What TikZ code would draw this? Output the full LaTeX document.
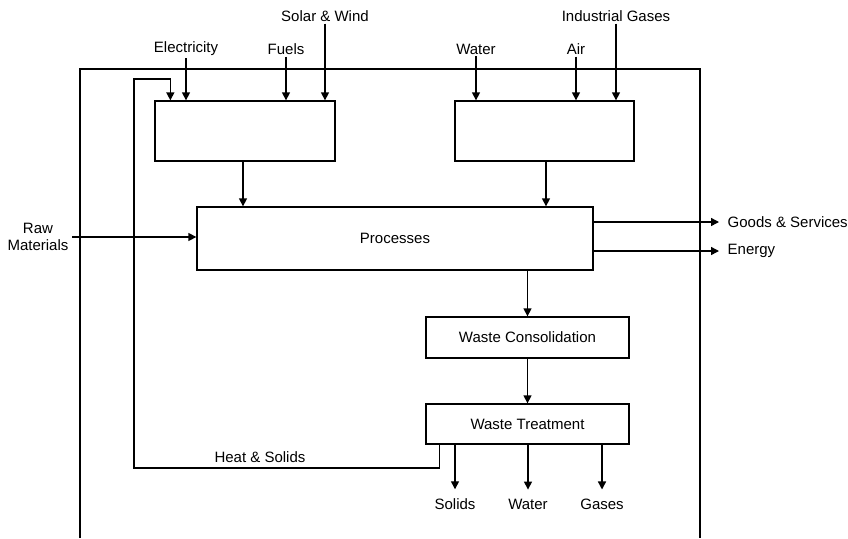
\documentclass[tikz,border=0pt]{standalone}
\usepackage{fontspec}
\setmainfont{Liberation Sans}
\usetikzlibrary{arrows.meta}
\begin{document}
\begin{tikzpicture}[x=1pt,y=-1pt, line width=1.4pt,
  box/.style={draw, rectangle, inner sep=0pt, line width=1.3pt, font=\fontsize{15}{17}\selectfont},
  lbl/.style={font=\fontsize{15}{17}\selectfont, inner sep=1.5pt},
  arr/.style={-{Triangle[length=8pt,width=8pt]}}]
\useasboundingbox (0,0) rectangle (848,538);
% frame
\draw (80,538) -- (80,69) -- (700,69) -- (700,538);
% boxes
\node[box, minimum width=180, minimum height=60] (lb) at (245,131) {};
\node[box, minimum width=179, minimum height=60] (rb) at (544.5,131) {};
\node[box, minimum width=396, minimum height=63] (proc) at (395,238.5) {Processes};
\node[box, minimum width=203, minimum height=41] (wc) at (527.5,337.5) {Waste Consolidation};
\node[box, minimum width=203, minimum height=40] (wt) at (527.5,424) {Waste Treatment};
% input labels
\node[lbl] (elec) at (186,49) {Electricity};
\node[lbl] (fuels) at (286,49) {Fuels};
\node[lbl] (solar) at (325,16) {Solar \& Wind};
\node[lbl] (water) at (476,49) {Water};
\node[lbl] (air) at (576,49) {Air};
\node[lbl] (indg) at (616,16) {Industrial Gases};
\node[lbl, align=center, inner sep=0pt] (raw) at (38,237) {Raw\\Materials};
\node[lbl, anchor=west, inner sep=0pt] (goods) at (727,222) {Goods \& Services};
\node[lbl, anchor=west, inner sep=0pt] (energy) at (727,251) {Energy};
\node[lbl] (solids) at (455,504) {Solids};
\node[lbl] (wout) at (528,504) {Water};
\node[lbl] (gases) at (602,504) {Gases};
\node[lbl] (heat) at (260,457) {Heat \& Solids};
% input arrows
\draw[arr] (elec.south) -- (elec.south |- lb.north);
\draw[arr] (fuels.south) -- (fuels.south |- lb.north);
\draw[arr] (solar.south) -- (solar.south |- lb.north);
\draw[arr] (water.south) -- (water.south |- rb.north);
\draw[arr] (air.south) -- (air.south |- rb.north);
\draw[arr] (indg.south) -- (indg.south |- rb.north);
% to processes
\draw[arr] ([xshift=-2pt]lb.south) -- ([xshift=-2pt]lb.south |- proc.north);
\draw[arr] ([xshift=1.5pt]rb.south) -- ([xshift=1.5pt]rb.south |- proc.north);
\draw[arr] ([xshift=3pt]raw.east) -- (raw.east -| proc.west);
% outputs of processes
\draw[arr, shorten >=8pt] (proc.east |- goods.west) -- (goods.west);
\draw[arr, shorten >=8pt] (proc.east |- energy.west) -- (energy.west);
% waste chain
\draw[arr] (wc.north |- proc.south) -- (wc.north);
\draw[arr] (wc.south) -- (wt.north);
\draw[arr, shorten >=7pt] (solids.north |- wt.south) -- (solids.north);
\draw[arr, shorten >=7pt] (wout.north |- wt.south) -- (wout.north);
\draw[arr, shorten >=7pt] (gases.north |- wt.south) -- (gases.north);
% feedback
\coordinate (fbl) at (134,468);
\coordinate (fbt) at (134,79);
\draw[arr] ([xshift=14pt]wt.south west) |- (fbl) -- (fbt) -| ([xshift=16pt]lb.north west);
\end{tikzpicture}
\end{document}
